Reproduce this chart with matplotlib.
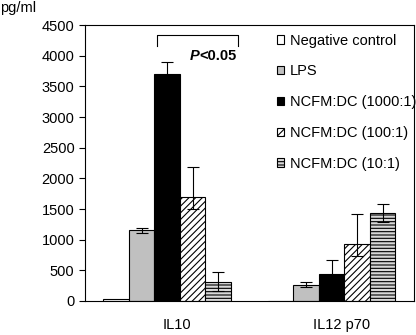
import matplotlib.pyplot as plt
import numpy as np

plt.rcParams['font.family'] = ['Liberation Sans', 'DejaVu Sans']
plt.rcParams['hatch.linewidth'] = 0.8

# Data
groups = ['IL10', 'IL12 p70']
series = ['Negative control', 'LPS', 'NCFM:DC (1000:1)', 'NCFM:DC (100:1)', 'NCFM:DC (10:1)']
values = {
    'Negative control': [25, 0],
    'LPS':              [1150, 260],
    'NCFM:DC (1000:1)': [3700, 440],
    'NCFM:DC (100:1)':  [1690, 935],
    'NCFM:DC (10:1)':   [305, 1440],
}
err_low = {
    'LPS':              [40, 28],
    'NCFM:DC (1000:1)': [195, 220],
    'NCFM:DC (100:1)':  [195, 196],
    'NCFM:DC (10:1)':   [140, 146],
}
err_high = {
    'LPS':              [40, 50],
    'NCFM:DC (1000:1)': [195, 222],
    'NCFM:DC (100:1)':  [490, 484],
    'NCFM:DC (10:1)':   [175, 146],
}

colors = ['white', '#c0c0c0', 'black', 'white', '#d8d8d8']
hatches = [None, None, None, '/////', '-----']

fig = plt.figure(figsize=(4.16, 3.35), dpi=100)
ax = fig.add_axes([0.2043, 0.1015, 0.7907, 0.8235])

x = np.arange(len(groups))
w = 0.155
for i, s in enumerate(series):
    pos = x + (i - 2) * w
    ax.bar(pos, values[s], w, color=colors[i], edgecolor='black', linewidth=0.8,
           hatch=hatches[i], label=s)
    if s in err_low:
        ax.errorbar(pos, values[s], yerr=[err_low[s], err_high[s]], fmt='none',
                    ecolor='black', elinewidth=0.8, capsize=4, capthick=0.8)

ax.set_xlim(-0.5, 1.5)
ax.set_ylim(0, 4500)
ax.set_yticks(range(0, 4501, 500))
ax.set_xticks(x + 0.06)
ax.set_xticklabels(groups)
ax.tick_params(axis='x', length=0, labelsize=10.5, pad=12)
ax.tick_params(axis='y', labelsize=10.5, length=4, width=0.8)
for sp in ax.spines.values():
    sp.set_linewidth(0.8)

# significance bracket
bx0, bx1 = -0.062, 0.43
ax.plot([bx0, bx0, bx1, bx1], [4160, 4340, 4340, 4160], color='black', lw=0.8)
tp = ax.text(0.138, 3990, 'P', fontsize=10.5, fontweight='bold', fontstyle='italic',
             ha='left', va='center')
ax.annotate('<0.05', xy=(1, 0.5), xycoords=tp, fontsize=10.5, fontweight='bold',
            ha='left', va='center')

fig.text(0.0, 0.975, 'pg/ml', fontsize=10.5, ha='left', va='center')

ax.legend(loc='upper left', bbox_to_anchor=(0.565, 0.99), frameon=False,
          fontsize=10.5, handlelength=0.5, handleheight=0.5, handletextpad=0.4,
          labelspacing=1.15, borderaxespad=0)

fig.savefig('out.png', dpi=100)
